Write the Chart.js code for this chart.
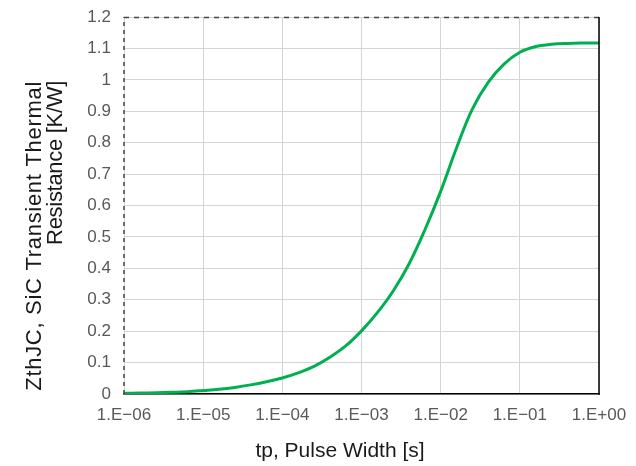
<!DOCTYPE html>
<html>
<head>
<meta charset="utf-8">
<script src="https://cdn.jsdelivr.net/npm/chart.js@4/dist/chart.umd.min.js"></script>
<style>
html,body{margin:0;padding:0;background:#fff;}
#wrap{width:636px;height:466px;}
</style>
</head>
<body>
<div id="wrap"><canvas id="c" width="636" height="466"></canvas></div>
<script>
// Data (pulse width in s, Zth in K/W)
const pulseWidth = [1e-6, 1.585e-6, 2.512e-6, 3.981e-6, 6.31e-6, 1e-5, 1.585e-5, 2.512e-5, 3.981e-5, 6.31e-5, 1e-4, 1.585e-4, 2.512e-4, 3.981e-4, 6.31e-4, 1e-3, 1.585e-3, 2.512e-3, 3.981e-3, 6.31e-3, 1e-2, 1.585e-2, 2.512e-2, 3.981e-2, 6.31e-2, 1e-1, 1.585e-1, 2.512e-1, 3.981e-1, 6.31e-1, 1];
const zthJC = [0.002, 0.003, 0.004, 0.0055, 0.0075, 0.011, 0.015, 0.021, 0.029, 0.039, 0.051, 0.067, 0.088, 0.117, 0.153, 0.201, 0.259, 0.328, 0.414, 0.522, 0.645, 0.783, 0.907, 0.992, 1.050, 1.088, 1.106, 1.113, 1.116, 1.117, 1.117];
const xTickValues = [1e-6, 1e-5, 1e-4, 1e-3, 1e-2, 1e-1, 1];
const xTickLabels = ["1.E\u221206", "1.E\u221205", "1.E\u221204", "1.E\u221203", "1.E\u221202", "1.E\u221201", "1.E+00"];
const yTitleLines = ["ZthJC, SiC Transient Thermal", "Resistance [K/W]"];
const xTitle = "tp, Pulse Width [s]";

const FONT = "'Liberation Sans', Arial, Helvetica, sans-serif";

const framePlugin = {
  id: 'frame',
  afterDraw(chart) {
    const {ctx, chartArea: a} = chart;
    ctx.save();
    // top and left dashed
    ctx.strokeStyle = '#444';
    ctx.lineWidth = 1.5;
    ctx.setLineDash([5, 5]);
    ctx.beginPath();
    ctx.moveTo(a.left, a.top + 0.5);
    ctx.lineTo(a.right, a.top + 0.5);
    ctx.stroke();
    ctx.setLineDash([4, 4]);
    ctx.beginPath();
    ctx.moveTo(a.left, a.bottom);
    ctx.lineTo(a.left, a.top);
    ctx.stroke();
    // right solid
    ctx.setLineDash([]);
    ctx.strokeStyle = '#000';
    ctx.lineWidth = 1.5;
    ctx.beginPath();
    ctx.moveTo(a.right, a.top);
    ctx.lineTo(a.right, a.bottom + 0.75);
    ctx.stroke();
    // titles
    ctx.fillStyle = '#1a1a1a';
    ctx.font = '21px ' + FONT;
    ctx.textAlign = 'center';
    ctx.textBaseline = 'alphabetic';
    ctx.fillText(xTitle, 340, 456.5);
    ctx.font = '22px ' + FONT;
    ctx.textAlign = 'right';
    ctx.textBaseline = 'middle';
    ctx.translate(35, 81);
    ctx.rotate(-Math.PI / 2);
    ctx.letterSpacing = '0.7px';
    ctx.fillText(yTitleLines[0], 0, 0);
    ctx.letterSpacing = '-0.3px';
    ctx.fillText(yTitleLines[1], 0, 21);
    ctx.restore();
  }
};

new Chart(document.getElementById('c'), {
  type: 'line',
  data: {
    datasets: [{
      data: pulseWidth.map((x, i) => ({x: x, y: zthJC[i]})),
      borderColor: '#00b050',
      borderWidth: 3,
      pointRadius: 0,
      fill: false,
      tension: 0.4
    }]
  },
  options: {
    responsive: false,
    animation: false,
    layout: {padding: {left: 0, top: 17, right: 37, bottom: 0}},
    plugins: {legend: {display: false}, tooltip: {enabled: false}},
    scales: {
      x: {
        type: 'logarithmic',
        min: 1e-6,
        max: 1,
        afterBuildTicks(scale) { scale.ticks = xTickValues.map(v => ({value: v})); },
        afterFit(scale) { scale.height = 72; scale.paddingLeft = 0; scale.paddingRight = 0; },
        ticks: {
          autoSkip: false,
          maxRotation: 0,
          padding: 11,
          color: '#595959',
          font: {family: FONT, size: 17},
          callback(value) {
            const i = xTickValues.findIndex(v => Math.abs(Math.log10(v) - Math.log10(value)) < 1e-6);
            return i >= 0 ? xTickLabels[i] : '';
          }
        },
        grid: {color: '#d4d4d4', lineWidth: 1, drawTicks: false},
        border: {color: '#000', width: 1.5}
      },
      y: {
        min: 0,
        max: 1.2,
        afterFit(scale) { scale.width = 124; scale.paddingTop = 0; scale.paddingBottom = 0; },
        ticks: {
          stepSize: 0.1,
          padding: 13,
          color: '#595959',
          font: {family: FONT, size: 17},
          callback(value) { return String(Math.round(value * 10) / 10); }
        },
        grid: {color: '#d4d4d4', lineWidth: 1, drawTicks: false},
        border: {display: false}
      }
    }
  },
  plugins: [framePlugin]
});
</script>
</body>
</html>
